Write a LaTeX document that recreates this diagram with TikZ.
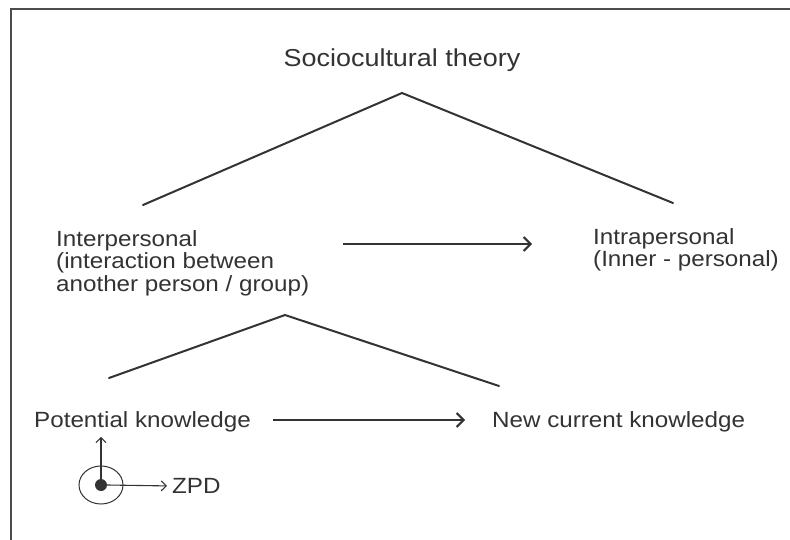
\documentclass[tikz,border=0pt]{standalone}
\usepackage{fontspec}
\setmainfont[FakeStretch=1.1]{Liberation Sans}
\usetikzlibrary{arrows.meta,shapes.geometric}
\definecolor{ink}{HTML}{333333}
\begin{document}
\begin{tikzpicture}[x=1pt,y=-1pt,
	txt/.style={anchor=north west,align=left,inner sep=0pt,text=ink,font=\fontsize{22}{22.5}\selectfont},
	leg/.style={draw=ink,line width=2pt,line cap=round},
	pfeil/.style={draw=ink,line width=2pt,-{Straight Barb[length=7pt,width=14pt,line width=2pt]}},
	klein/.style={draw=ink,line width=1.1pt,-{Straight Barb[length=5pt,width=10pt,line width=1.1pt]}}]
		\useasboundingbox(0,0)rectangle(790,540);
		\fill[white](0,0)rectangle(790,540);
		\draw[line width=1.5pt,draw=black!70](790,9)--(11,9)--(11,540); %Rahmen
		\node[anchor=base,inner sep=0pt,text=ink,font=\fontsize{24.5}{26}\selectfont](soz)at(402,67){Sociocultural theory};
		\coordinate(A)at(402,93); %Spitze oben
		\coordinate(L)at(143,205);
		\coordinate(R)at(673,203);
		\draw[leg](L)--(A)--(R);
		\node[txt](inter)at(56,230){Interpersonal\\(interaction between\\another person / group)};
		\node[txt](intra)at(593,228){Intrapersonal\\(Inner - personal)};
		\coordinate(p1)at(343,244);
		\coordinate(p2)at(532,244);
		\draw[pfeil](p1)--(p2);
		\coordinate(B)at(285,315); %Spitze unten
		\coordinate(BL)at(109,378);
		\coordinate(BR)at(499,386);
		\draw[leg](BL)--(B)--(BR);
		\node[txt,anchor=base west](pot)at(34,427){Potential knowledge};
		\node[txt,anchor=base west](neu)at(492,427){New current knowledge};
		\coordinate(q1)at(273,420);
		\coordinate(q2)at(465,420);
		\draw[pfeil](q1)--(q2);
		\node[draw=ink,line width=1pt,ellipse,minimum width=44pt,minimum height=38pt,inner sep=0pt](kreis)at(101,485){}; %ZPD Kreis
		\node[fill=ink,circle,minimum size=12pt,inner sep=0pt](punkt)at(kreis.center){};
		\node[txt,anchor=west](zpd)at(172,486){ZPD};
		\draw[klein,shorten >=5pt](punkt.center)--(pot.south-|punkt);
		\draw[klein,shorten >=5pt](punkt.east)--(zpd.west);
	\end{tikzpicture}
\end{document}
